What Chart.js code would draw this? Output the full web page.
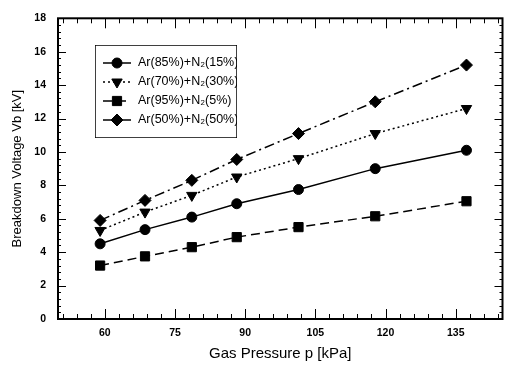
<!DOCTYPE html>
<html>
<head>
<meta charset="utf-8">
<script src="https://cdn.jsdelivr.net/npm/chart.js@4.4.0/dist/chart.umd.min.js"></script>
<style>
  html, body { margin: 0; padding: 0; background: #fff; }
  #wrap { width: 510px; height: 371px; position: relative; }
</style>
</head>
<body>
<div id="wrap"><canvas id="chart"></canvas></div>
<script>
// data
const pressures = [59, 68.6, 78.6, 88.2, 101.4, 117.8, 137.3];
const ar85 = [4.5, 5.35, 6.1, 6.9, 7.75, 9.0, 10.1];
const ar70 = [5.3, 6.4, 7.4, 8.5, 9.6, 11.1, 12.6];
const ar95 = [3.2, 3.75, 4.3, 4.9, 5.5, 6.15, 7.05];
const ar50 = [5.9, 7.1, 8.3, 9.55, 11.1, 13.0, 15.2];
const seriesNames = ['Ar(85%)+N\u2082(15%)', 'Ar(70%)+N\u2082(30%)', 'Ar(95%)+N\u2082(5%)', 'Ar(50%)+N\u2082(50%)'];
const xTicks = [60, 75, 90, 105, 120, 135];
const yTicks = [0, 2, 4, 6, 8, 10, 12, 14, 16, 18];

const FONT = '"Liberation Sans", Arial, sans-serif';
const toXY = ys => ys.map((y, i) => ({ x: pressures[i], y }));

function makeSet(label, ys, style, dash, radius, rotation) {
  return {
    label,
    data: toXY(ys),
    borderColor: '#000',
    backgroundColor: '#000',
    borderWidth: 1.5,
    borderDash: dash,
    pointStyle: style,
    pointRadius: radius,
    pointRotation: rotation || 0,
    pointBorderWidth: 1,
    pointBackgroundColor: '#000',
    pointBorderColor: '#000',
    showLine: true,
    tension: 0
  };
}

// inward ticks + frame, like the original plot
const frameTicks = {
  id: 'frameTicks',
  afterDatasetsDraw(chart) {
    const { ctx, chartArea: a, scales: { x, y } } = chart;
    ctx.save();
    ctx.strokeStyle = '#000';
    ctx.setLineDash([]);
    ctx.lineWidth = 1;
    // x: minor every 3, major every 15
    for (let v = 51; v <= 144; v += 3) {
      const px = Math.round(x.getPixelForValue(v)) + 0.5;
      const len = (v % 15 === 0) ? 10 : 5;
      ctx.beginPath();
      ctx.moveTo(px, a.bottom); ctx.lineTo(px, a.bottom - len);
      ctx.moveTo(px, a.top); ctx.lineTo(px, a.top + len);
      ctx.stroke();
    }
    // y: minor every 0.4, major every 2
    for (let k = 0; k <= 45; k++) {
      const v = k * 0.4;
      const py = Math.round(y.getPixelForValue(v)) + 0.5;
      const len = (k % 5 === 0) ? 8 : 3;
      ctx.beginPath();
      ctx.moveTo(a.left, py); ctx.lineTo(a.left + len, py);
      ctx.moveTo(a.right, py); ctx.lineTo(a.right - len, py);
      ctx.stroke();
    }
    ctx.lineWidth = 2;
    ctx.strokeRect(a.left, a.top, a.right - a.left, a.bottom - a.top);
    ctx.restore();
  }
};

// boxed legend with line style + marker sample
const boxLegend = {
  id: 'boxLegend',
  afterDraw(chart) {
    const { ctx } = chart;
    const bx = 95, by = 45, bw = 142, bh = 93;
    ctx.save();
    ctx.fillStyle = '#fff';
    ctx.fillRect(bx, by, bw, bh);
    ctx.beginPath();
    ctx.rect(bx, by, bw, bh);
    ctx.clip();
    chart.data.datasets.forEach((ds, i) => {
      const yy = 63 + i * 19;
      ctx.strokeStyle = '#000';
      ctx.lineWidth = 1.5;
      ctx.setLineDash(ds.borderDash || []);
      ctx.beginPath();
      ctx.moveTo(103, yy); ctx.lineTo(131, yy);
      ctx.stroke();
      ctx.setLineDash([]);
      ctx.fillStyle = '#000';
      ctx.lineWidth = 1;
      Chart.helpers.drawPoint(ctx, { pointStyle: ds.pointStyle, radius: ds.pointRadius, rotation: ds.pointRotation, borderWidth: 1 }, 117, yy);
      ctx.font = '12.5px ' + FONT;
      ctx.textBaseline = 'middle';
      ctx.textAlign = 'left';
      ctx.fillText(ds.label, 138, yy);
    });
    ctx.lineWidth = 1.5;
    ctx.strokeStyle = '#000';
    ctx.strokeRect(bx, by, bw, bh);
    ctx.restore();
  }
};

new Chart(document.getElementById('chart'), {
  type: 'scatter',
  data: {
    datasets: [
      makeSet(seriesNames[0], ar85, 'circle', [], 5),
      makeSet(seriesNames[1], ar70, 'triangle', [2, 3], 6, 180),
      makeSet(seriesNames[2], ar95, 'rect', [9, 5], 6.5),
      makeSet(seriesNames[3], ar50, 'rectRot', [10, 4, 2, 4], 6)
    ]
  },
  options: {
    responsive: true,
    maintainAspectRatio: false,
    animation: false,
    layout: { padding: { top: 12, right: 2, left: 0, bottom: 0 } },
    plugins: {
      legend: { display: false },
      tooltip: { enabled: false }
    },
    scales: {
      x: {
        type: 'linear',
        min: 50,
        max: 145,
        afterBuildTicks: s => { s.ticks = xTicks.map(v => ({ value: v })); },
        afterFit: s => { s.height = 52; },
        grid: { display: false, drawTicks: false },
        border: { display: false },
        ticks: { color: '#000', padding: 8, font: { family: FONT, size: 10.5, weight: 'bold' } },
        title: { display: true, text: 'Gas Pressure p [kPa]', color: '#000', padding: { top: 0, bottom: 8 }, font: { family: FONT, size: 15 } }
      },
      y: {
        min: 0,
        max: 18,
        afterBuildTicks: s => { s.ticks = yTicks.map(v => ({ value: v })); },
        afterFit: s => { s.width = 58; },
        grid: { display: false, drawTicks: false },
        border: { display: false },
        ticks: { color: '#000', padding: 12, font: { family: FONT, size: 10.5, weight: 'bold' } },
        title: { display: true, text: 'Breakdown Voltage Vb [kV]', color: '#000', padding: { top: 10, bottom: 0 }, font: { family: FONT, size: 13 } }
      }
    }
  },
  plugins: [frameTicks, boxLegend]
});
</script>
</body>
</html>
